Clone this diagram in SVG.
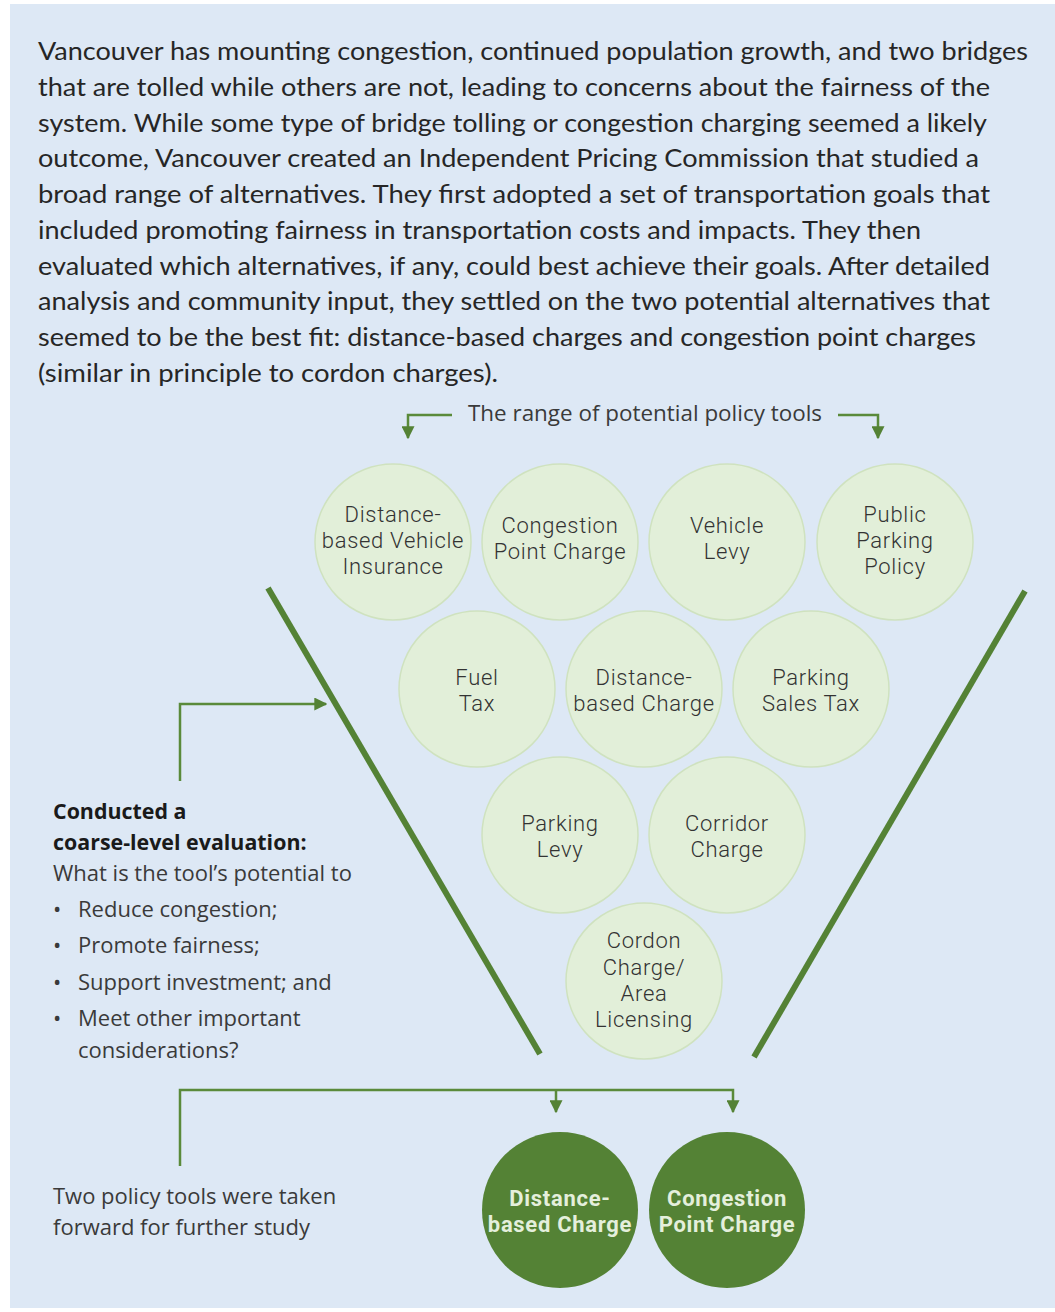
<svg xmlns="http://www.w3.org/2000/svg" width="1055" height="1312" viewBox="0 0 1055 1312">
<defs>
<style>
.bg{fill:#dde8f5}
.para{font-family:Lato,"Liberation Sans",sans-serif;font-size:25px;fill:#262626}
.lbl{font-family:Roboto,"Liberation Sans",sans-serif;font-size:22px;font-weight:300;letter-spacing:0.7px;fill:#333;text-anchor:middle}
.rng{font-family:"Open Sans","Noto Sans",sans-serif;font-size:21px;fill:#3a3a3a}
.side{font-family:"Open Sans","Noto Sans",sans-serif;font-size:22px;fill:#3a3a3a}
.sideb{font-family:"Open Sans","Noto Sans",sans-serif;font-size:21.4px;font-weight:bold;fill:#1a1a1a}
.light{fill:#e2efd9;stroke:#cfe2bf;stroke-width:1.5}
.dark{fill:#548235}
.dlbl{font-family:Roboto,"Liberation Sans",sans-serif;font-size:22px;font-weight:bold;letter-spacing:0.7px;fill:#e4efdc;text-anchor:middle}
.conn{fill:none;stroke:#5a8a3a;stroke-width:2.5}
.funnel{stroke:#548235;stroke-width:6;stroke-linecap:butt}
</style>
<marker id="ah" viewBox="0 0 10 10" refX="9" refY="5" markerWidth="5.2" markerHeight="5.2" markerUnits="strokeWidth" orient="auto">
<path d="M0,0 L10,5 L0,10 Z" fill="#548235"/>
</marker>
</defs>
<rect x="10" y="4" width="1045" height="1304" class="bg"/>
<g id="intro">
<text class="para" x="38" y="60" textLength="990" lengthAdjust="spacingAndGlyphs">Vancouver has mounting congestion, continued population growth, and two bridges</text>
<text class="para" x="38" y="96" textLength="952" lengthAdjust="spacingAndGlyphs">that are tolled while others are not, leading to concerns about the fairness of the</text>
<text class="para" x="38" y="132" textLength="949" lengthAdjust="spacingAndGlyphs">system. While some type of bridge tolling or congestion charging seemed a likely</text>
<text class="para" x="38" y="167" textLength="941" lengthAdjust="spacingAndGlyphs">outcome, Vancouver created an Independent Pricing Commission that studied a</text>
<text class="para" x="38" y="203" textLength="952" lengthAdjust="spacingAndGlyphs">broad range of alternatives. They first adopted a set of transportation goals that</text>
<text class="para" x="38" y="239" textLength="883" lengthAdjust="spacingAndGlyphs">included promoting fairness in transportation costs and impacts. They then</text>
<text class="para" x="38" y="275" textLength="952" lengthAdjust="spacingAndGlyphs">evaluated which alternatives, if any, could best achieve their goals. After detailed</text>
<text class="para" x="38" y="310" textLength="952" lengthAdjust="spacingAndGlyphs">analysis and community input, they settled on the two potential alternatives that</text>
<text class="para" x="38" y="346" textLength="938" lengthAdjust="spacingAndGlyphs">seemed to be the best fit: distance-based charges and congestion point charges</text>
<text class="para" x="38" y="382" textLength="460" lengthAdjust="spacingAndGlyphs">(similar in principle to cordon charges).</text>
</g>
<g id="range-label">
<text class="rng" x="468" y="421" textLength="354" lengthAdjust="spacingAndGlyphs">The range of potential policy tools</text>
</g>
<g id="connectors">
<polyline class="conn" points="452,415 408,415 408,438" marker-end="url(#ah)"/>
<polyline class="conn" points="838,415 878,415 878,438" marker-end="url(#ah)"/>
<polyline class="conn" points="180,781 180,704 326,704" marker-end="url(#ah)"/>
<polyline class="conn" points="180,1166 180,1090 733,1090 733,1112" marker-end="url(#ah)"/>
<polyline class="conn" points="556,1090 556,1112" marker-end="url(#ah)"/>
<line class="funnel" x1="268" y1="588" x2="540" y2="1054"/>
<line class="funnel" x1="1025" y1="591" x2="754" y2="1057"/>
</g>
<g id="n-dvi"><circle class="light" cx="393" cy="542" r="78"/><text class="lbl"><tspan x="393" y="522">Distance-</tspan><tspan x="393" y="548">based Vehicle</tspan><tspan x="393" y="574">Insurance</tspan></text></g>
<g id="n-cpc"><circle class="light" cx="560" cy="542" r="78"/><text class="lbl"><tspan x="560" y="533">Congestion</tspan><tspan x="560" y="559">Point Charge</tspan></text></g>
<g id="n-vl"><circle class="light" cx="727" cy="542" r="78"/><text class="lbl"><tspan x="727" y="533">Vehicle</tspan><tspan x="727" y="559">Levy</tspan></text></g>
<g id="n-ppp"><circle class="light" cx="895" cy="542" r="78"/><text class="lbl"><tspan x="895" y="522">Public</tspan><tspan x="895" y="548">Parking</tspan><tspan x="895" y="574">Policy</tspan></text></g>
<g id="n-ft"><circle class="light" cx="477" cy="689" r="78"/><text class="lbl"><tspan x="477" y="685">Fuel</tspan><tspan x="477" y="711">Tax</tspan></text></g>
<g id="n-dbc"><circle class="light" cx="644" cy="689" r="78"/><text class="lbl"><tspan x="644" y="685">Distance-</tspan><tspan x="644" y="711">based Charge</tspan></text></g>
<g id="n-pst"><circle class="light" cx="811" cy="689" r="78"/><text class="lbl"><tspan x="811" y="685">Parking</tspan><tspan x="811" y="711">Sales Tax</tspan></text></g>
<g id="n-pl"><circle class="light" cx="560" cy="835" r="78"/><text class="lbl"><tspan x="560" y="831">Parking</tspan><tspan x="560" y="857">Levy</tspan></text></g>
<g id="n-cc"><circle class="light" cx="727" cy="835" r="78"/><text class="lbl"><tspan x="727" y="831">Corridor</tspan><tspan x="727" y="857">Charge</tspan></text></g>
<g id="n-cal"><circle class="light" cx="644" cy="981" r="78"/><text class="lbl"><tspan x="644" y="948">Cordon</tspan><tspan x="644" y="975">Charge/</tspan><tspan x="644" y="1001">Area</tspan><tspan x="644" y="1027">Licensing</tspan></text></g>
<g id="evaluation">
<text class="sideb" x="53" y="819">Conducted a</text>
<text class="sideb" x="53" y="850">coarse-level evaluation:</text>
<text class="side" x="53" y="881">What is the tool’s potential to</text>
<text class="side" x="53" y="917">•</text><text class="side" x="78" y="917">Reduce congestion;</text>
<text class="side" x="53" y="953">•</text><text class="side" x="78" y="953">Promote fairness;</text>
<text class="side" x="53" y="990">•</text><text class="side" x="78" y="990">Support investment; and</text>
<text class="side" x="53" y="1026">•</text><text class="side" x="78" y="1026">Meet other important</text>
<text class="side" x="78" y="1058">considerations?</text>
</g>
<g id="forward">
<text class="side" x="53" y="1204">Two policy tools were taken</text>
<text class="side" x="53" y="1235">forward for further study</text>
</g>
<g id="r-dbc"><circle class="dark" cx="560" cy="1210" r="78"/><text class="dlbl"><tspan x="560" y="1206">Distance-</tspan><tspan x="560" y="1232">based Charge</tspan></text></g>
<g id="r-cpc"><circle class="dark" cx="727" cy="1210" r="78"/><text class="dlbl"><tspan x="727" y="1206">Congestion</tspan><tspan x="727" y="1232">Point Charge</tspan></text></g>
</svg>
